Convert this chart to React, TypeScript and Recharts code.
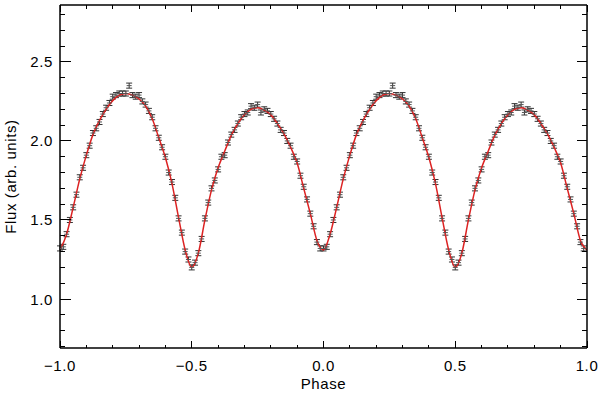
import React from 'react';
import {
  ComposedChart,
  Scatter,
  Line,
  XAxis,
  YAxis,
  ErrorBar,
  Label,
} from 'recharts';

// measured flux over one cycle, phase 0 .. 0.9875 in steps of 0.0125
const fluxValues = [
  1.32, 1.33, 1.41, 1.50, 1.58, 1.66, 1.77, 1.83, 1.91, 1.97,
  2.05, 2.08, 2.12, 2.17, 2.21, 2.24, 2.28, 2.29, 2.30, 2.30,
  2.30, 2.35, 2.29, 2.28, 2.29, 2.25, 2.23, 2.19, 2.15, 2.08,
  2.02, 1.96, 1.90, 1.80, 1.74, 1.64, 1.51, 1.42, 1.30, 1.25,
  1.20, 1.23, 1.29, 1.38, 1.51, 1.61, 1.70, 1.75, 1.82, 1.90,
  1.91, 1.99, 2.04, 2.07, 2.11, 2.15, 2.17, 2.18, 2.22, 2.21,
  2.23, 2.18, 2.20, 2.19, 2.17, 2.14, 2.11, 2.07, 2.05, 2.00,
  1.97, 1.90, 1.87, 1.78, 1.71, 1.63, 1.54, 1.46, 1.36, 1.32,
];
const fluxStep = 0.0125;
const fluxErr = 0.016;

// model fit over one cycle, phase 0 .. 1 in steps of 0.025
const fitValues = [
  1.31, 1.41, 1.58, 1.76, 1.91, 2.04, 2.13, 2.20, 2.255, 2.29,
  2.30, 2.29, 2.265, 2.22, 2.14, 2.02, 1.895, 1.73, 1.515, 1.31,
  1.20, 1.29, 1.50, 1.69, 1.83, 1.935, 2.035, 2.11, 2.165, 2.20,
  2.21, 2.195, 2.165, 2.11, 2.045, 1.96, 1.86, 1.70, 1.54, 1.37,
  1.31,
];
const fitStep = 0.025;

const xTicks = [
  -1.0, -0.9, -0.8, -0.7, -0.6, -0.5, -0.4, -0.3, -0.2, -0.1, 0.0,
  0.1, 0.2, 0.3, 0.4, 0.5, 0.6, 0.7, 0.8, 0.9, 1.0,
];
const yTicks = [
  0.7, 0.8, 0.9, 1.0, 1.1, 1.2, 1.3, 1.4, 1.5, 1.6, 1.7, 1.8, 1.9,
  2.0, 2.1, 2.2, 2.3, 2.4, 2.5, 2.6, 2.7, 2.8,
];

const round = (v: number) => Math.round(v * 10000) / 10000;

// the folded light curve is plotted twice: phase -1..0 and 0..1
const pointData = [
  ...fluxValues.map((f, i) => ({ phase: round(i * fluxStep - 1), flux: f, err: fluxErr })),
  ...fluxValues.map((f, i) => ({ phase: round(i * fluxStep), flux: f, err: fluxErr })),
];
const fitData = [
  ...fitValues.slice(0, -1).map((f, i) => ({ phase: round(i * fitStep - 1), flux: f })),
  ...fitValues.map((f, i) => ({ phase: round(i * fitStep), flux: f })),
];

const font = '"Liberation Sans", Arial, sans-serif';
const isMajor = (v: number) => Math.abs(v * 2 - Math.round(v * 2)) < 1e-6;
const fmt = (v: number) => v.toFixed(1).replace('-', '\u2212');

const tickText = { fontFamily: font, fontSize: 15, letterSpacing: 0.6, fill: '#000' };
const tickStroke = { stroke: '#000', strokeWidth: 1, shapeRendering: 'crispEdges' as const };

const BottomTick = (props: any) => {
  const { x, y, payload } = props;
  const major = isMajor(payload.value);
  return (
    <g>
      <line x1={x} x2={x} y1={y} y2={y - (major ? 7 : 3.5)} {...tickStroke} />
      {major && (
        <text x={x} y={y + 23} textAnchor="middle" {...tickText}>
          {fmt(payload.value)}
        </text>
      )}
    </g>
  );
};

const TopTick = (props: any) => {
  const { x, y, payload } = props;
  const major = isMajor(payload.value);
  return <line x1={x} x2={x} y1={y} y2={y + (major ? 7 : 3.5)} {...tickStroke} />;
};

const LeftTick = (props: any) => {
  const { x, y, payload } = props;
  const major = isMajor(payload.value);
  return (
    <g>
      <line x1={x} x2={x + (major ? 10.5 : 5.3)} y1={y} y2={y} {...tickStroke} />
      {major && (
        <text x={x - 7} y={y + 5.5} textAnchor="end" {...tickText}>
          {fmt(payload.value)}
        </text>
      )}
    </g>
  );
};

const RightTick = (props: any) => {
  const { x, y, payload } = props;
  const major = isMajor(payload.value);
  return <line x1={x} x2={x - (major ? 10.5 : 5.3)} y1={y} y2={y} {...tickStroke} />;
};

const PointMark = (props: any) => {
  const { cx, cy } = props;
  if (cx == null || cy == null) return null;
  return <line x1={cx - 2.5} x2={cx + 2.5} y1={cy} y2={cy} stroke="#555" strokeWidth={1} />;
};

const axisLine = { stroke: '#000', strokeWidth: 1.5 };

export default function App() {
  return (
    <div style={{ position: 'absolute', left: 0, top: 0, background: '#fff' }}>
      <ComposedChart
        width={600}
        height={393}
        margin={{ top: 4, right: 12, bottom: 0, left: 0 }}
      >
        <XAxis
          dataKey="phase"
          type="number"
          domain={[-1, 1]}
          ticks={xTicks}
          interval={0}
          allowDataOverflow
          height={45}
          tickSize={0}
          tickMargin={0}
          tickLine={false}
          axisLine={axisLine}
          tick={<BottomTick />}
        >
          <Label
            value="Phase"
            position="insideBottom"
            offset={4}
            style={{ fontFamily: font, fontSize: 15, letterSpacing: 0.6, fill: '#000' }}
          />
        </XAxis>
        <XAxis
          xAxisId="top"
          orientation="top"
          dataKey="phase"
          type="number"
          domain={[-1, 1]}
          ticks={xTicks}
          interval={0}
          allowDataOverflow
          height={1}
          tickSize={0}
          tickMargin={0}
          tickLine={false}
          axisLine={axisLine}
          tick={<TopTick />}
        />
        <YAxis
          type="number"
          domain={[0.69, 2.86]}
          ticks={yTicks}
          interval={0}
          allowDataOverflow
          width={60}
          tickSize={0}
          tickMargin={0}
          tickLine={false}
          axisLine={axisLine}
          tick={<LeftTick />}
        >
          <Label
            value="Flux (arb. units)"
            angle={-90}
            position="insideLeft"
            offset={11}
            style={{ fontFamily: font, fontSize: 15, letterSpacing: 0.6, fill: '#000', textAnchor: 'middle' }}
          />
        </YAxis>
        <YAxis
          yAxisId="right"
          orientation="right"
          type="number"
          domain={[0.69, 2.86]}
          ticks={yTicks}
          interval={0}
          allowDataOverflow
          width={1}
          tickSize={0}
          tickMargin={0}
          tickLine={false}
          axisLine={axisLine}
          tick={<RightTick />}
        />
        <Scatter
          data={pointData}
          dataKey="flux"
          shape={<PointMark />}
          isAnimationActive={false}
        >
          <ErrorBar dataKey="err" direction="y" width={3} stroke="#333" strokeWidth={1} />
        </Scatter>
        <Line
          data={fitData}
          dataKey="flux"
          type="monotone"
          stroke="#dc2323"
          strokeWidth={1.5}
          dot={false}
          activeDot={false}
          isAnimationActive={false}
        />
      </ComposedChart>
    </div>
  );
}
